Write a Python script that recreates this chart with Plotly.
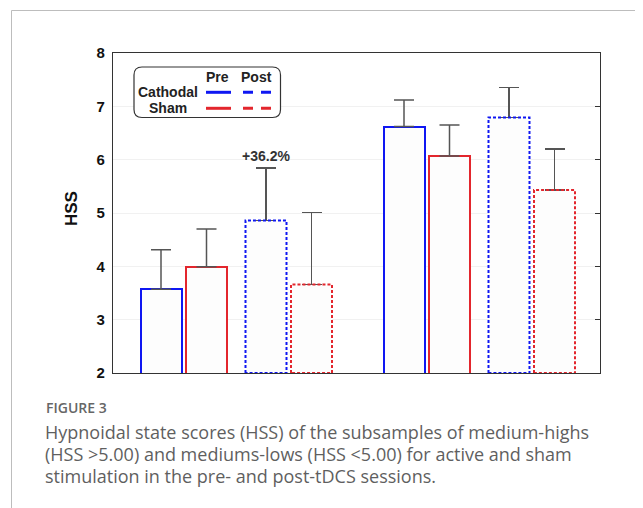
import plotly.graph_objects as go

# ---------------- data ----------------
groups = ["Medium-lows (HSS <5.00)", "Medium-highs (HSS >5.00)"]
cathodal_pre = [3.57, 6.62]
sham_pre = [3.99, 6.07]
cathodal_post = [4.86, 6.79]
sham_post = [3.66, 5.43]
cathodal_pre_sd = [0.74, 0.50]
sham_pre_sd = [0.71, 0.58]
cathodal_post_sd = [0.98, 0.56]
sham_post_sd = [1.35, 0.77]
y_ticks = [2, 3, 4, 5, 6, 7, 8]
annot_text = "+36.2%"

# ---------------- layout constants ----------------
W, H = 643, 508           # window size
OFF = 8                   # default page body margin
FW, FH = W - OFF, H - OFF # figure size
PL, PR, PT, PB = 113, 600, 53, 373          # plot area in window pixels
Y_MIN, Y_MAX = 2, 8
X_SPAN = PR - PL
GROUP_STEP, SESSION_STEP, STIM_STEP, FIRST = 243, 105, 45.5, 48
BAR_W = 41

BLUE = "#0f17f2"
RED = "#e3262d"
FILL = "#fdfdfd"
ERR = "#555555"
AX = "#333333"


def px2x(px):
    return (px - PL) / X_SPAN


def py2y(py):
    return (PB - py) / (PB - PT)


def positions(session, stim):
    return [FIRST + g * GROUP_STEP + session * SESSION_STEP + stim * STIM_STEP
            for g in range(len(groups))]


series = [
    ("Cathodal Pre", cathodal_pre, cathodal_pre_sd, 0, 0, BLUE, False),
    ("Sham Pre", sham_pre, sham_pre_sd, 0, 1, RED, False),
    ("Cathodal Post", cathodal_post, cathodal_post_sd, 1, 0, BLUE, True),
    ("Sham Post", sham_post, sham_post_sd, 1, 1, RED, True),
]

fig = go.Figure()
for name, vals, sds, sess, stim, col, dashed in series:
    xs = positions(sess, stim)
    fig.add_trace(go.Bar(
        x=xs, y=vals, width=BAR_W, name=name,
        marker=dict(color=FILL,
                    line=dict(color=col, width=0 if dashed else 2)),
        error_y=dict(type="data", symmetric=False, array=sds,
                     arrayminus=[0] * len(sds), color=ERR,
                     thickness=1.5, width=10),
        showlegend=False,
    ))

# dashed outlines for the post-session bars
for name, vals, sds, sess, stim, col, dashed in series:
    if not dashed:
        continue
    for xc, v in zip(positions(sess, stim), vals):
        x0, x1 = xc - BAR_W / 2, xc + BAR_W / 2
        fig.add_trace(go.Scatter(
            x=[x0, x0, x1, x1, x0], y=[Y_MIN, v, v, Y_MIN, Y_MIN],
            mode="lines", line=dict(color=col, width=2, dash="3px,2px"),
            showlegend=False, hoverinfo="skip", cliponaxis=False,
        ))

# percentage annotation above cathodal post (first group)
xa = positions(1, 0)[0]
fig.add_annotation(x=xa, y=cathodal_post[0] + cathodal_post_sd[0],
                   text="<b>%s</b>" % annot_text, showarrow=False,
                   yanchor="bottom", yshift=2,
                   font=dict(family="Liberation Sans, Arial", size=14,
                             color="#333333"))

# right axis ticks (inward)
fig.add_trace(go.Scatter(x=[None], y=[None], yaxis="y2", showlegend=False))

shapes = []
annotations = []

# legend box (rounded)
lx0, lx1, ly0, ly1, r = 134, 280.5, 67, 117.5, 8
def P(px, py):
    return "%f,%f" % (px2x(px), py2y(py))
path = ("M " + P(lx0 + r, ly0) + " L " + P(lx1 - r, ly0) +
        " Q " + P(lx1, ly0) + " " + P(lx1, ly0 + r) +
        " L " + P(lx1, ly1 - r) + " Q " + P(lx1, ly1) + " " + P(lx1 - r, ly1) +
        " L " + P(lx0 + r, ly1) + " Q " + P(lx0, ly1) + " " + P(lx0, ly1 - r) +
        " L " + P(lx0, ly0 + r) + " Q " + P(lx0, ly0) + " " + P(lx0 + r, ly0) + " Z")
shapes.append(dict(type="path", xref="paper", yref="paper", path=path,
                   line=dict(color="#333333", width=1.2), fillcolor="white",
                   layer="above"))

leg_font = dict(family="Liberation Sans, Arial", size=14, color="#222222")
annotations += [
    dict(x=px2x(217), y=py2y(77), text="<b>Pre</b>", xanchor="center"),
    dict(x=px2x(256.5), y=py2y(77), text="<b>Post</b>", xanchor="center"),
    dict(x=px2x(199.5), y=py2y(92), text="<b>Cathodal</b>", xanchor="right"),
    dict(x=px2x(168), y=py2y(107.5), text="<b>Sham</b>", xanchor="center"),
]
for yy, col in [(92.3, BLUE), (108.3, RED)]:
    shapes.append(dict(type="line", xref="paper", yref="paper",
                       x0=px2x(206), x1=px2x(231), y0=py2y(yy), y1=py2y(yy),
                       line=dict(color=col, width=3), layer="above"))
    shapes.append(dict(type="line", xref="paper", yref="paper",
                       x0=px2x(243), x1=px2x(272), y0=py2y(yy), y1=py2y(yy),
                       line=dict(color=col, width=3, dash="10px,8px"),
                       layer="above"))

# page frame lines
shapes.append(dict(type="line", xref="paper", yref="paper",
                   x0=px2x(11.5), x1=px2x(11.5), y0=py2y(10.5), y1=py2y(H + 5),
                   line=dict(color="#bdbdbd", width=1)))
shapes.append(dict(type="line", xref="paper", yref="paper",
                   x0=px2x(11.5), x1=px2x(W + 5), y0=py2y(10.5), y1=py2y(10.5),
                   line=dict(color="#bdbdbd", width=1)))

# y-axis title
annotations.append(dict(x=px2x(71), y=py2y(209), text="<b>HSS</b>",
                        textangle=-90, xanchor="center", yanchor="middle",
                        font=dict(family="Liberation Sans, Arial", size=17,
                                  color="#111111")))

# caption
cap_font = dict(family="Open Sans", size=18, color="#5f5f5f")
annotations.append(dict(x=px2x(44), y=py2y(407), text="FIGURE 3",
                        xanchor="left", yanchor="middle",
                        font=dict(family="Open Sans", size=14, color="#666666",
                                  weight=600)))
cap_lines = [
    "Hypnoidal state scores (HSS) of the subsamples of medium-highs",
    "(HSS >5.00) and mediums-lows (HSS <5.00) for active and sham",
    "stimulation in the pre- and post-tDCS sessions.",
]
for i, t in enumerate(cap_lines):
    annotations.append(dict(x=px2x(43), y=py2y(431.5 + 22 * i), text=t,
                            xanchor="left", yanchor="middle", font=cap_font))

for a in annotations:
    a.setdefault("xref", "paper")
    a.setdefault("yref", "paper")
    a.setdefault("showarrow", False)
    a.setdefault("yanchor", "middle")
    a.setdefault("font", leg_font)
    fig.add_annotation(**a)

fig.update_layout(
    width=FW, height=FH, autosize=False,
    margin=dict(l=PL - OFF, r=W - PR, t=PT - OFF, b=H - PB, pad=0),
    paper_bgcolor="white", plot_bgcolor="white",
    barmode="overlay", bargap=0,
    shapes=shapes,
    xaxis=dict(range=[0, X_SPAN], showticklabels=False, ticks="",
               showgrid=False, zeroline=False, showline=True,
               linecolor=AX, linewidth=1.3, mirror=True, fixedrange=True),
    yaxis=dict(range=[Y_MIN, Y_MAX], tickvals=y_ticks,
               ticktext=["<b>%d</b>" % t for t in y_ticks],
               tickfont=dict(family="Liberation Sans, Arial", size=15,
                             color="#111111"),
               ticks="", ticklabelstandoff=4,
               showgrid=True, gridcolor="#f1f1f1", gridwidth=1,
               zeroline=False, showline=True, linecolor=AX, linewidth=1.3,
               mirror=True),
    yaxis2=dict(range=[Y_MIN, Y_MAX], tickvals=y_ticks, overlaying="y",
                side="right", ticks="inside", ticklen=5, tickcolor=AX,
                tickwidth=1.3, showticklabels=False, showgrid=False,
                zeroline=False, showline=False),
    showlegend=False,
)

fig.write_html("out.html")
